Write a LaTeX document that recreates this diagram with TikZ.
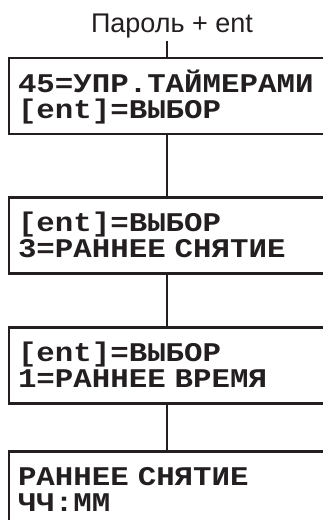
\documentclass[tikz,border=0pt]{standalone}
\usepackage{fontspec}
\setmainfont{Liberation Sans}
\newfontfamily\lcdfont[FakeStretch=1.14]{Liberation Mono}
\usetikzlibrary{positioning}
\definecolor{ink}{HTML}{231F20}

\begin{document}
\begin{tikzpicture}[
    x=1pt, y=1pt,
    ink,
    screen/.style={rectangle, draw, line width=2.8pt, text width=298pt, text height=34pt, text depth=42pt, inner xsep=9pt, inner ysep=0pt, align=left, font=\lcdfont\bfseries\fontsize{27}{26}\selectfont},
    link/.style={line width=2.4pt}
]
\clip (0,0) rectangle (323,-520);

\node[font=\fontsize{27}{30}\selectfont, inner sep=3pt, anchor=base] (pw) at (172,-32) {Пароль + ent};

\node[screen, anchor=north] (s1) at (167,-56.6) {45=УПР.ТАЙМЕРАМИ\\{}[ent]=ВЫБОР};
\node[screen, below=61pt of s1] (s2) {[ent]=ВЫБОР\\3=РАННЕЕ СНЯТИЕ};
\node[screen, below=51pt of s2] (s3) {[ent]=ВЫБОР\\1=РАННЕЕ ВРЕМЯ};
\node[screen, below=45pt of s3] (s4) {РАННЕЕ СНЯТИЕ\\ЧЧ:ММ};

% connectors
\draw[link] (pw.south -| s1.north) -- (s1.north);
\draw[link] (s1) -- (s2);
\draw[link] (s2) -- (s3);
\draw[link] (s3) -- (s4);

\end{tikzpicture}
\end{document}
